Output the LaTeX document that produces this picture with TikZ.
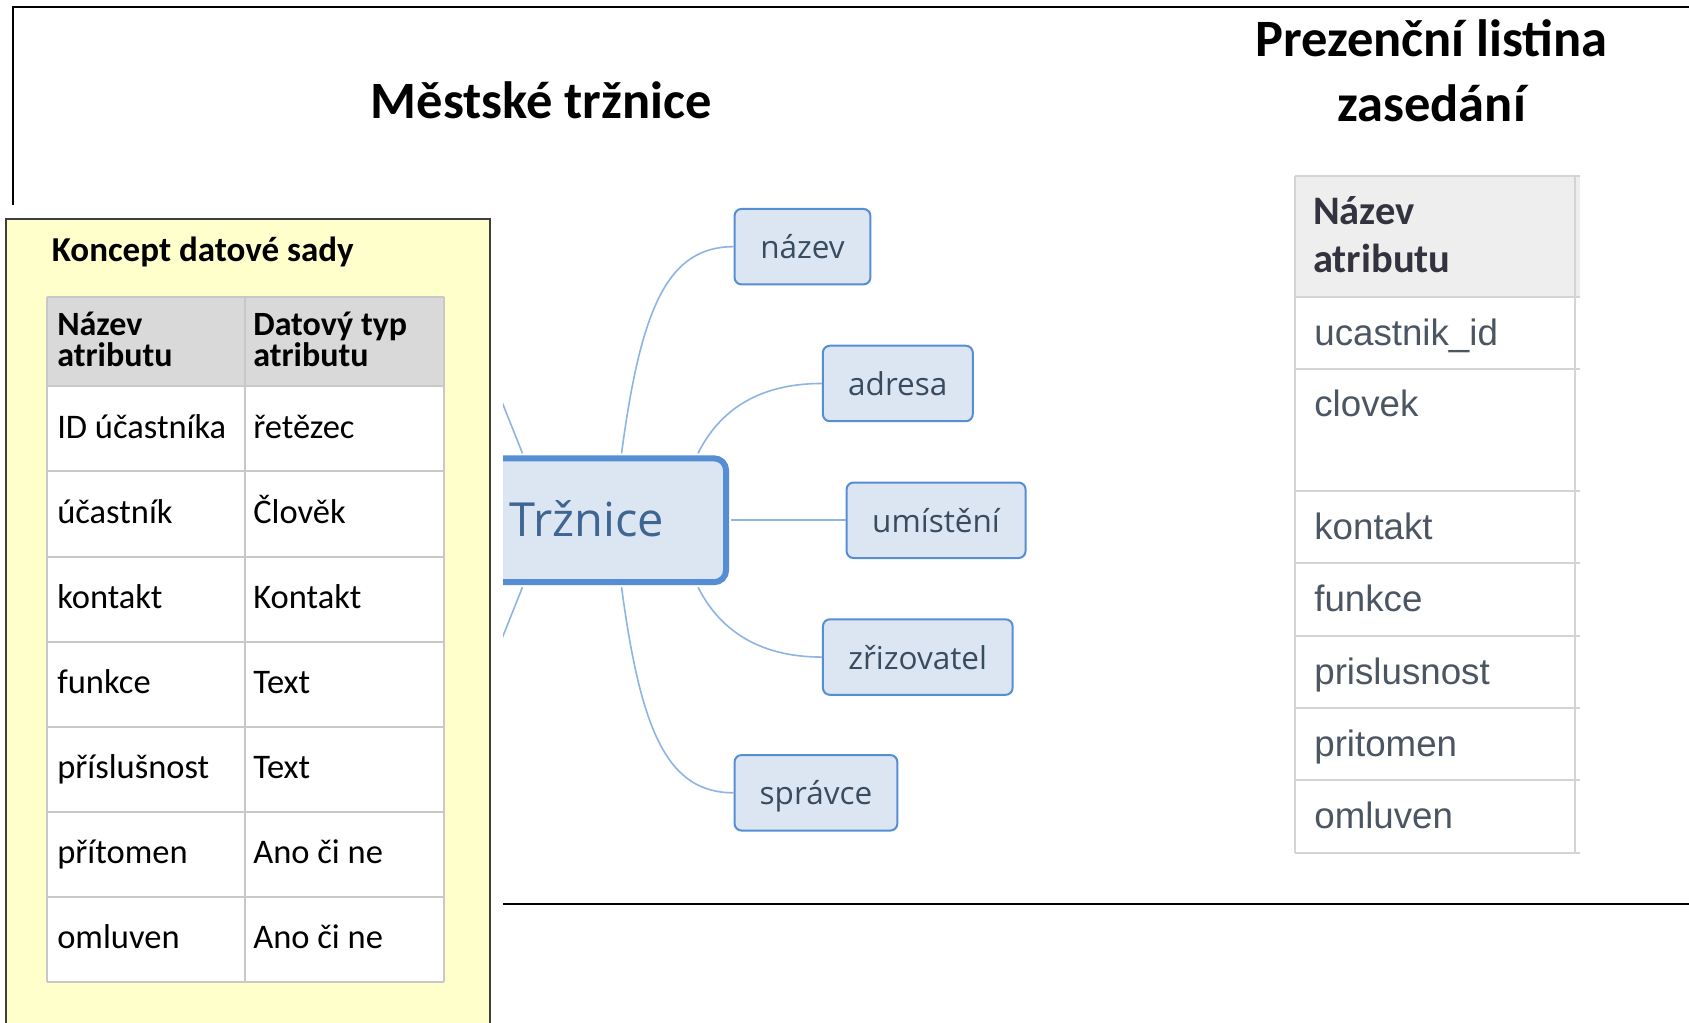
\documentclass[tikz,border=0pt]{standalone}
\usepackage{fontspec}
\setmainfont{Carlito}
\newfontfamily\mmfont{Open Sans}
\newfontfamily\arialfont{Liberation Sans}
\definecolor{yel}{HTML}{FFFFCC}
\definecolor{hdrgray}{HTML}{D9D9D9}
\definecolor{gridgray}{HTML}{C8C8C8}
\definecolor{mmfill}{HTML}{DCE6F2}
\definecolor{mmborder}{HTML}{558ED5}
\definecolor{mmline}{HTML}{8EB4E3}
\definecolor{mmtext}{HTML}{394B5F}
\definecolor{centertext}{HTML}{3F6593}
\definecolor{rtext}{HTML}{4C5663}
\definecolor{rhdr}{HTML}{EEEEEE}
\definecolor{rgrid}{HTML}{D4D4D4}
\definecolor{rhdrtext}{HTML}{33333F}
\begin{document}
\begin{tikzpicture}[x=1.0772pt,y=-1.0772pt,
  mmchild/.style={draw=mmborder, fill=mmfill, line width=2pt, rounded corners=7pt, inner sep=0pt,
    text=mmtext, font=\mmfont\fontsize{31.5}{36}\selectfont, text height=28pt, text depth=4pt,
    minimum height=75.5pt},
  mmlink/.style={draw=mmline, line width=1.6pt},
  cell/.style={anchor=base west, inner sep=0pt, font=\fontsize{34.5}{40}\selectfont},
  lhdr/.style={anchor=base west, inner sep=0pt, font=\bfseries\fontsize{34}{40}\selectfont},
  rcell/.style={anchor=base west, inner sep=0pt, text=rtext, font=\arialfont\fontsize{36.7}{44}\selectfont},
  rhdrtxt/.style={anchor=base west, inner sep=0pt, text=rhdrtext, font=\bfseries\fontsize{40.5}{48}\selectfont},
  titletxt/.style={anchor=base, inner sep=0pt, font=\bfseries\fontsize{52.5}{60}\selectfont},
  gridline/.style={draw=gridgray, line width=2pt},
  rgridline/.style={draw=rgrid, line width=2pt}
]
\fill[white] (0,0) rectangle (1568,949);
\useasboundingbox (0,0) rectangle (1568,949);

% outer frame
\draw[line width=2.5pt] (12,190) -- (12,6.5) -- (1570,6.5);
\draw[line width=2.5pt] (467,839) -- (1570,839);

% titles
\node[titletxt] (title1) at (502.5,110) {Městské tržnice};
\node[titletxt] (title2a) at (1329,52) {Prezenční listina};
\node[titletxt] (title2b) at (1329,113) {zasedání};

% ---------------- yellow box with left table
\draw[fill=yel, draw=black!75, line width=2pt] (6,203) rectangle (455,970);
\node[anchor=base west, inner sep=0pt, font=\bfseries\fontsize{35}{40}\selectfont] (kds) at (48,243) {Koncept datové sady};

\fill[hdrgray] (44,276) rectangle (412,358);
\fill[white] (44,358) rectangle (412,912);
\foreach \yy in {276,358,437,517,596,675,754,833,912}
  \draw[gridline] (44,\yy) -- (412,\yy);
\foreach \xx in {44,227,412}
  \draw[gridline] (\xx,276) -- (\xx,912);

\node[lhdr] (lh1a) at (53,311) {Název};
\node[lhdr] (lh1b) at (53,340) {atributu};
\node[lhdr] (lh2a) at (235,311) {Datový typ};
\node[lhdr] (lh2b) at (235,340) {atributu};

\foreach \a/\b/\yy [count=\i] in {ID účastníka/řetězec/407,
    účastník/Člověk/486,
    kontakt/Kontakt/565,
    funkce/Text/644,
    příslušnost/Text/723,
    přítomen/Ano či ne/802,
    omluven/Ano či ne/881}{
  \node[cell] (la\i) at (53,\yy) {\a};
  \node[cell] (lb\i) at (235,\yy) {\b};
}

% ---------------- right table
\fill[rhdr] (1202,163) rectangle (1467,276);
\foreach \yy in {163,276,343,456,523,590,657,724,792}
  \draw[rgridline] (1202,\yy) -- (1467,\yy);
\foreach \xx in {1202,1462}
  \draw[rgridline] (\xx,163) -- (\xx,792);
\node[rhdrtxt] (rh1) at (1219,208) {Název};
\node[rhdrtxt] (rh2) at (1219,253) {atributu};
\foreach \a/\yy [count=\i] in {ucastnik\_id/321, clovek/387, kontakt/501, funkce/568,
    prislusnost/635, pritomen/702, omluven/769}{
  \node[rcell] (r\i) at (1220,\yy) {\a};
}

% ---------------- mind map
\begin{scope}
\clip (467,150) rectangle (1100,836);
\coordinate (lu) at (452,338);
\coordinate (ld) at (452,628);
\node[mmchild, minimum width=135.9pt] (n1) at (745,229) {název};
\node[mmchild, minimum width=149.9pt] (n2) at (833.5,356) {adresa};
\node[mmchild, minimum width=179pt] (n3) at (869,483) {umístění};
\node[mmchild, minimum width=189.7pt] (n4) at (852,610) {zřizovatel};
\node[mmchild, minimum width=162.8pt] (n5) at (757.5,736) {správce};
\node[draw=mmborder, fill=mmfill, line width=6pt, rounded corners=12pt, inner sep=0pt,
      minimum width=278pt, minimum height=123.9pt, text=centertext,
      font=\mmfont\fontsize{47}{52}\selectfont, text height=37pt, text depth=4.6pt]
      (c) at (545,483) {Tržnice};
\draw[mmlink] ([xshift=34.5pt,yshift=2pt]c.north) .. controls +(18,-135.5) and +(-61,0) .. (n1.west);
\draw[mmlink] ([xshift=111pt,yshift=2pt]c.north) .. controls +(20,-40.5) and +(-58,0) .. (n2.west);
\draw[mmlink] ([xshift=2pt]c.east) -- (n3.west);
\draw[mmlink] ([xshift=111pt,yshift=-2pt]c.south) .. controls +(20,40) and +(-58,0) .. (n4.west);
\draw[mmlink] ([xshift=34.5pt,yshift=-2pt]c.south) .. controls +(18,135) and +(-61,0) .. (n5.west);
\draw[mmlink] ([xshift=-64.6pt,yshift=2pt]c.north) -- (lu);
\draw[mmlink] ([xshift=-64.6pt,yshift=-2pt]c.south) -- (ld);
\end{scope}
\end{tikzpicture}
\end{document}
